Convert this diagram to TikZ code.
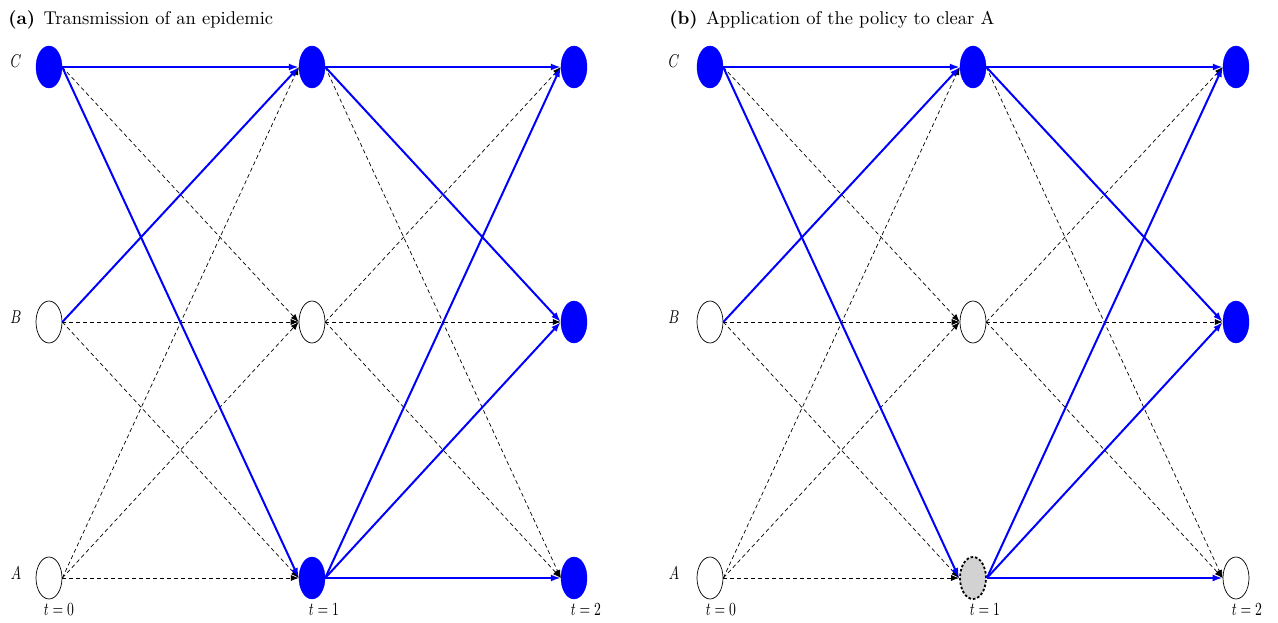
\documentclass[tikz,border=0pt]{standalone}
\usetikzlibrary{shapes.geometric,arrows.meta}
\begin{document}
\begin{tikzpicture}[x=1pt,y=-1pt,
  nd/.style={ellipse,minimum width=26pt,minimum height=42pt,inner sep=0pt},
  inf/.style={nd,draw=blue,fill=blue},
  sus/.style={nd,draw=black,line width=0.7pt,fill=white},
  clr/.style={nd,draw=black,fill=gray!35,line width=1.8pt,dash pattern=on 2.5pt off 2pt},
  bl/.style={draw=blue,line width=2pt,-{Latex[length=10pt,width=7pt]}},
  dsh/.style={draw=black,line width=0.7pt,dash pattern=on 4pt off 3pt,-{Latex[length=8pt,width=6pt]}},
  lab/.style={font=\fontsize{10}{12}\selectfont,xscale=1.37,yscale=1.85,inner sep=0pt},
  ttl/.style={font=\fontsize{10}{12}\selectfont,scale=1.85,anchor=base west,inner sep=0pt}]
\useasboundingbox (0,0) rectangle (1278,623);
% titles
\node[ttl] (ta) at (8,25) {\textbf{(a)}\hspace{0.45em}Transmission of an epidemic};
\node[ttl] (tb) at (669,25) {\textbf{(b)}\hspace{0.45em}Application of the policy to clear A};
% panel a nodes
\node[inf] (aC0) at (49,67) {};
\node[sus] (aB0) at (49,322) {};
\node[sus] (aA0) at (49,578) {};
\node[inf] (aC1) at (312,67) {};
\node[sus] (aB1) at (312,322) {};
\node[inf] (aA1) at (312,578) {};
\node[inf] (aC2) at (574,67) {};
\node[inf] (aB2) at (574,322) {};
\node[inf] (aA2) at (574,578) {};
% panel b nodes
\node[inf] (bC0) at (710,67) {};
\node[sus] (bB0) at (710,322) {};
\node[sus] (bA0) at (710,578) {};
\node[inf] (bC1) at (973,67) {};
\node[sus] (bB1) at (973,322) {};
\node[clr] (bA1) at (973,578) {};
\node[inf] (bC2) at (1236,67) {};
\node[inf] (bB2) at (1236,322) {};
\node[sus] (bA2) at (1236,578) {};
% row labels
\foreach \p/\lx in {a/16,b/674}{
  \node[lab] (\p LC) at (\lx,61) {$C$};
  \node[lab] (\p LB) at (\lx,317) {$B$};
  \node[lab] (\p LA) at (\lx,573) {$A$};
}
% time labels
\node[lab] (at0) at (59,610) {$t=0$};
\node[lab] (at1) at (324,610) {$t=1$};
\node[lab] (at2) at (586,610) {$t=2$};
\node[lab] (bt0) at (721,610) {$t=0$};
\node[lab] (bt1) at (985,610) {$t=1$};
\node[lab] (bt2) at (1247,610) {$t=2$};
% edges
\foreach \p in {a,b}{
  \foreach \s/\t in {C0/B1,B0/B1,B0/A1,A0/C1,A0/B1,A0/A1,C1/A2,B1/C2,B1/B2,B1/A2}
    \draw[dsh] (\p\s.east) -- (\p\t.west);
  \foreach \s/\t in {C0/C1,C0/A1,B0/C1,C1/C2,C1/B2,A1/C2,A1/B2,A1/A2}
    \draw[bl] (\p\s.east) -- (\p\t.west);
}
\end{tikzpicture}
\end{document}
